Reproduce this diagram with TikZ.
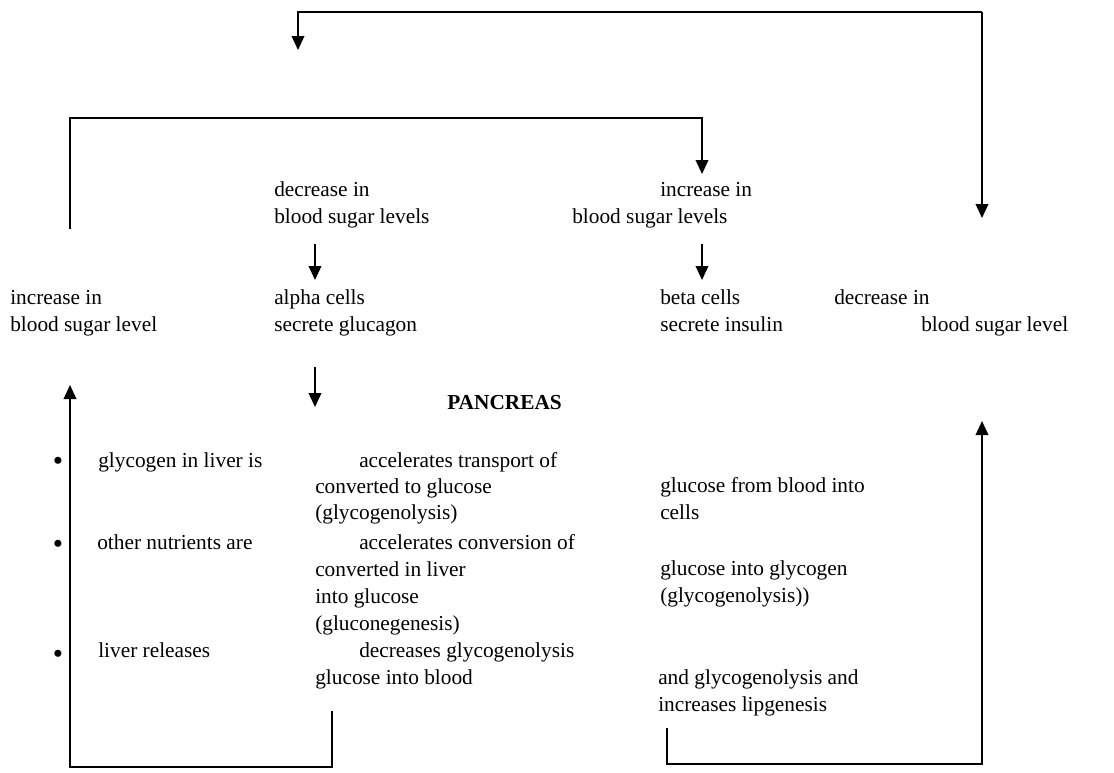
\documentclass[tikz,border=0pt]{standalone}
\usepackage{fontspec}
\setmainfont{Liberation Serif}
\usetikzlibrary{arrows.meta}
\begin{document}
\begin{tikzpicture}[x=0.75pt,y=-0.75pt,
  txt/.style={anchor=base west,inner sep=0pt,font=\fontsize{16}{20}\selectfont},
  bold/.style={txt,font=\fontsize{16}{20}\selectfont\bfseries},
  bul/.style={anchor=center,inner sep=0pt,font=\fontsize{22}{24}\selectfont},
  conn/.style={line width=1.1pt,line join=miter,-{Triangle[width=9.5pt,length=10.5pt]}}]
\useasboundingbox (0,0) rectangle (1114,772);
% text
\node[txt] (dec1a) at (274,196) {decrease in};
\node[txt] (dec1b) at (274,223) {blood sugar levels};
\node[txt] (inc1a) at (660,196) {increase in};
\node[txt] (inc1b) at (572,223) {blood sugar levels};
\node[txt] (incLa) at (10,304) {increase in};
\node[txt] (incLb) at (10,331) {blood sugar level};
\node[txt] (alphaa) at (274,304) {alpha cells};
\node[txt] (alphab) at (274,331) {secrete glucagon};
\node[txt] (betaa) at (660,304) {beta cells};
\node[txt] (betab) at (660,331) {secrete insulin};
\node[txt] (decRa) at (834,304) {decrease in};
\node[txt] (decRb) at (921,331) {blood sugar level};
\node[bold] (pan) at (447,409) {PANCREAS};
% bullets
\node[bul] (b1) at (58,464) {•};
\node[bul] (b2) at (58,547) {•};
\node[bul] (b3) at (58,657) {•};
\node[txt] (g1a) at (98,467) {glycogen in liver is};
\node[txt] (g2a) at (97,549) {other nutrients are};
\node[txt] (g3a) at (98,657) {liver releases};
\node[txt] (m1a) at (359,467) {accelerates transport of};
\node[txt] (m1b) at (315,493) {converted to glucose};
\node[txt] (m1c) at (315,519) {(glycogenolysis)};
\node[txt] (m2a) at (359,549) {accelerates conversion of};
\node[txt] (m2b) at (315,576) {converted in liver};
\node[txt] (m2c) at (315,603) {into glucose};
\node[txt] (m2d) at (315,630) {(gluconegenesis)};
\node[txt] (m3a) at (359,657) {decreases glycogenolysis};
\node[txt] (m3b) at (315,684) {glucose into blood};
\node[txt] (r1a) at (660,492) {glucose from blood into};
\node[txt] (r1b) at (660,519) {cells};
\node[txt] (r2a) at (660,575) {glucose into glycogen};
\node[txt] (r2b) at (660,602) {(glycogenolysis))};
\node[txt] (r3a) at (658,684) {and glycogenolysis and};
\node[txt] (r3b) at (658,711) {increases lipgenesis};
% coordinates
\coordinate (t0) at (982,12);
\coordinate (t1) at (298,12);
\coordinate (t2) at (298,50);
\coordinate (t3) at (982,218);
\coordinate (s0) at (70,229);
\coordinate (s1) at (70,118);
\coordinate (s2) at (702,118);
\coordinate (s3) at (702,174);
\coordinate (a0) at (315,244);
\coordinate (a1) at (315,280);
\coordinate (a2) at (702,244);
\coordinate (a3) at (702,280);
\coordinate (a4) at (315,367);
\coordinate (a5) at (315,407);
\coordinate (l0) at (332,711);
\coordinate (l1) at (332,767);
\coordinate (l2) at (70,767);
\coordinate (l3) at (70,385);
\coordinate (r0) at (667,728);
\coordinate (r1) at (667,764);
\coordinate (r2) at (982,764);
\coordinate (r3) at (982,421);
% connectors
\draw[conn] (t0) -- (t1) -- (t2);
\draw[conn] (t0) -- (t3);
\draw[conn] (s0) -- (s1) -- (s2) -- (s3);
\draw[conn] (a0) -- (a1);
\draw[conn] (a2) -- (a3);
\draw[conn] (a4) -- (a5);
\draw[conn] (l0) -- (l1) -- (l2) -- (l3);
\draw[conn] (r0) -- (r1) -- (r2) -- (r3);
\end{tikzpicture}
\end{document}
